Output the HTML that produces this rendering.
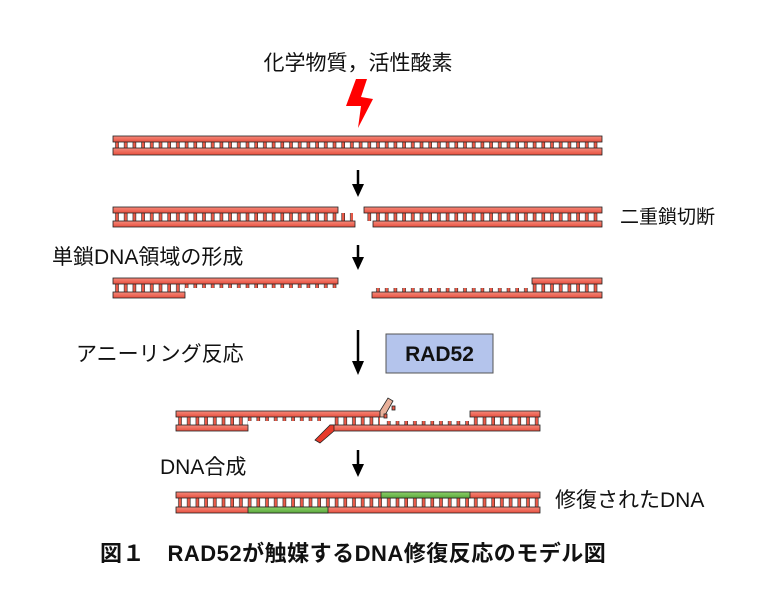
<!DOCTYPE html>
<html><head><meta charset="utf-8"><style>
body{margin:0;background:#fff;}
svg{display:block;font-family:"Liberation Sans","Noto Sans CJK JP",sans-serif;}
</style></head><body>
<svg width="767" height="600" viewBox="0 0 767 600" xmlns="http://www.w3.org/2000/svg">
<defs>
<linearGradient id="rg" x1="0" y1="0" x2="0" y2="1"><stop offset="0" stop-color="#f58a7c"/><stop offset="1" stop-color="#e8503e"/></linearGradient>
<linearGradient id="gg" x1="0" y1="0" x2="0" y2="1"><stop offset="0" stop-color="#8ed06a"/><stop offset="1" stop-color="#5aa83c"/></linearGradient>
<pattern id="rung" patternUnits="userSpaceOnUse" width="8.7" height="200" x="113" y="0">
<rect x="2.5" y="0" width="3" height="200" fill="#ec5a48" stroke="#222" stroke-width="0.6"/></pattern>
<pattern id="rung2" patternUnits="userSpaceOnUse" width="8.7" height="200" x="176" y="0">
<rect x="2.5" y="0" width="3" height="200" fill="#ec5a48" stroke="#222" stroke-width="0.6"/></pattern>
</defs>
<g font-size="21" fill="#111">
<text x="358" y="70" text-anchor="middle">化学物質，活性酸素</text>
<text x="620" y="223" font-size="19">二重鎖切断</text>
<text x="52" y="264">単鎖DNA領域の形成</text>
<text x="76" y="361">アニーリング反応</text>
<text x="160" y="474">DNA合成</text>
<text x="555" y="507">修復されたDNA</text>
</g>
<text x="100" y="561" font-size="22" font-weight="bold" fill="#111" letter-spacing="0.5">図１　RAD52が触媒するDNA修復反応のモデル図</text>
<polygon points="356,79 367,79 361,97 373,99 358,128 361,106 346,106" fill="#f00"/>
<rect x="386" y="334" width="107" height="39" fill="#b4c4ec" stroke="#555" stroke-width="1"/>
<text x="439.5" y="361" text-anchor="middle" font-size="21" font-weight="bold" fill="#111">RAD52</text>
<g stroke="#000" stroke-width="2.5" fill="#000">
<line x1="358" y1="170" x2="358" y2="186"/><polygon points="352,184 364,184 358,197" stroke="none"/>
<line x1="358" y1="245" x2="358" y2="259"/><polygon points="352,257 364,257 358,270" stroke="none"/>
<line x1="358" y1="330" x2="358" y2="363"/><polygon points="352,361 364,361 358,375" stroke="none"/>
<line x1="358" y1="450" x2="358" y2="466"/><polygon points="352,464 364,464 358,477" stroke="none"/>
</g>
<g stroke="#222" stroke-width="0.8">
<rect x="113" y="142" width="489" height="6" fill="url(#rung)" stroke="none"/>
<rect x="113" y="136" width="489" height="6" fill="url(#rg)"/>
<rect x="113" y="148" width="489" height="7" fill="url(#rg)"/>
<rect x="113" y="213" width="240" height="8" fill="url(#rung)" stroke="none"/>
<rect x="366" y="213" width="236" height="8" fill="url(#rung)" stroke="none"/>
<rect x="113" y="207" width="225" height="6" fill="url(#rg)"/>
<rect x="113" y="221" width="242" height="6" fill="url(#rg)"/>
<rect x="364" y="207" width="238" height="6" fill="url(#rg)"/>
<rect x="373" y="221" width="229" height="6" fill="url(#rg)"/>
<rect x="113" y="284" width="72" height="8" fill="url(#rung)" stroke="none"/>
<rect x="185" y="284" width="153" height="4" fill="url(#rung)" stroke="none"/>
<rect x="532" y="284" width="70" height="8" fill="url(#rung)" stroke="none"/>
<rect x="372" y="288" width="160" height="4" fill="url(#rung)" stroke="none"/>
<rect x="113" y="278" width="225" height="6" fill="url(#rg)"/>
<rect x="113" y="292" width="72" height="6" fill="url(#rg)"/>
<rect x="532" y="278" width="70" height="6" fill="url(#rg)"/>
<rect x="372" y="292" width="230" height="6" fill="url(#rg)"/>
<rect x="176" y="417" width="72" height="8" fill="url(#rung2)" stroke="none"/>
<rect x="248" y="417" width="77" height="4" fill="url(#rung2)" stroke="none"/>
<rect x="330" y="417" width="50" height="8" fill="url(#rung2)" stroke="none"/>
<rect x="385" y="421" width="85" height="4" fill="url(#rung2)" stroke="none"/>
<rect x="470" y="417" width="70" height="8" fill="url(#rung2)" stroke="none"/>
<rect x="176" y="411" width="204" height="6" fill="url(#rg)"/>
<polygon points="380,411 388,398 393,401 384,417 380,417" fill="#e8b09a"/>
<rect x="392" y="406" width="3" height="4" fill="#ec5a48"/>
<rect x="384" y="414" width="3" height="4" fill="#ec5a48"/>
<rect x="176" y="425" width="72" height="6" fill="url(#rg)"/>
<rect x="330" y="425" width="210" height="6" fill="url(#rg)"/>
<polygon points="330,425 334,425 334,431 320,443 315,440" fill="#e83a2a"/>
<rect x="470" y="411" width="70" height="6" fill="url(#rg)"/>
<rect x="176" y="498" width="364" height="9" fill="url(#rung2)" stroke="none"/>
<rect x="176" y="492" width="364" height="6" fill="url(#rg)"/>
<rect x="381" y="492" width="89" height="6" fill="url(#gg)"/>
<rect x="176" y="507" width="364" height="6" fill="url(#rg)"/>
<rect x="248" y="507" width="80" height="6" fill="url(#gg)"/>
</g>
</svg>
</body></html>
